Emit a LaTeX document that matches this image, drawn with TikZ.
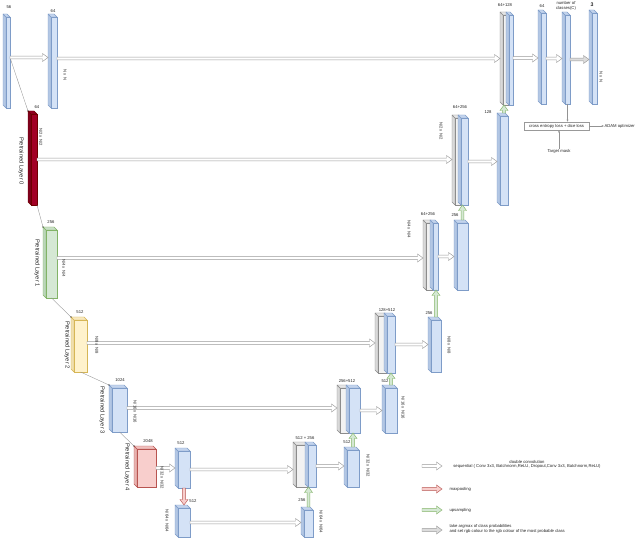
\documentclass[tikz,border=0pt]{standalone}
\usepackage{fontspec}
\setmainfont{Liberation Sans}
\usetikzlibrary{calc,arrows.meta}
\definecolor{bluef}{HTML}{D4E2F6}
\definecolor{blues}{HTML}{B3C7E4}
\definecolor{bluek}{HTML}{7E9CC8}
\definecolor{grayf}{HTML}{F2F2F2}
\definecolor{grays}{HTML}{D9D9D9}
\definecolor{grayk}{HTML}{8C8C8C}
\definecolor{greenf}{HTML}{D5E8D4}
\definecolor{greens}{HTML}{BBD6B9}
\definecolor{greenk}{HTML}{82B366}
\definecolor{yellf}{HTML}{FFF2CC}
\definecolor{yells}{HTML}{F0DFAE}
\definecolor{yellk}{HTML}{D6B656}
\definecolor{redf}{HTML}{F8CECC}
\definecolor{reds}{HTML}{E8B2B0}
\definecolor{redk}{HTML}{B85450}
\definecolor{dredf}{HTML}{A20025}
\definecolor{dreds}{HTML}{7E001C}
\definecolor{dredk}{HTML}{6F0000}
\definecolor{arrk}{HTML}{9A9A9A}
\definecolor{argf}{HTML}{DCDCDC}
\tikzset{
  lbl/.style={font=\fontsize{4.2}{5}\selectfont, inner sep=0.3pt, text=black!85},
  rlbl/.style={lbl, rotate=-90},
  layerlbl/.style={font=\fontsize{5.8}{7}\selectfont, rotate=-90, inner sep=0, text=black!85},
  conn/.style={draw=gray!85, line width=0.35pt},
  frontface/.style={inner sep=0, outer sep=0, line width=0.4pt},
  smallarr/.style={conn, -{Latex[length=2.2pt,width=2pt]}},
}
% name L T R B front side stroke
\newcommand{\slab}[8]{%
  \filldraw[fill=#7, draw=#8, line width=0.4pt, line join=round] (#2+3,#3+3) -- (#2,#3) -- (#2,#5-3) -- (#2+3,#5) -- cycle;
  \filldraw[fill=#7!50!#6, draw=#8, line width=0.4pt, line join=round] (#2+3,#3+3) -- (#2,#3) -- (#4-3,#3) -- (#4,#3+3) -- cycle;
  \node[frontface, draw=#8, fill=#6, anchor=north west, minimum width={(#4-#2-3)*1pt}, minimum height={(#5-#3-3)*1pt}] (#1) at (#2+3,#3+3) {};
  \coordinate (#1-l) at (#2,{(#3+#5)/2});
  \coordinate (#1-t) at ({(#2+#4)/2+1.5},#3);
  \coordinate (#1-tl) at (#2,#3);
}
\newcommand{\bslab}[5]{\slab{#1}{#2}{#3}{#4}{#5}{bluef}{blues}{bluek}}
\newcommand{\gslab}[5]{\slab{#1}{#2}{#3}{#4}{#5}{grayf}{grays}{grayk}}
% fill stroke start end
\newcommand{\barr}[4]{%
  \path #3 coordinate (bs) #4 coordinate (be);
  \path ($(be)!5.5pt!(bs)$) coordinate (bh);
  \filldraw[fill=#1, draw=#2, line width=0.45pt, line join=miter]
    ($(bs)!1.4pt!90:(be)$) -- ($(bh)!1.4pt!90:(be)$) -- ($(bh)!4pt!90:(be)$) -- (be)
    -- ($(bh)!4pt!-90:(be)$) -- ($(bh)!1.4pt!-90:(be)$) -- ($(bs)!1.4pt!-90:(be)$) -- cycle;
}
\begin{document}
\begin{tikzpicture}[x=1pt,y=-1pt]
\useasboundingbox[fill=white] (0,0) rectangle (640,545);

% ---------- encoder ----------
\bslab{A}{3}{14}{10}{108}
\bslab{B}{48}{14}{57}{108}
\slab{L0}{28}{111}{37}{205}{dredf}{dreds}{dredk}
\slab{L1}{43}{227}{57}{298}{greenf}{greens}{greenk}
\slab{L2}{71}{317}{87}{372}{yellf}{yells}{yellk}
\bslab{L3}{109}{385}{127}{432}
\slab{L4}{134}{446}{156}{487}{redf}{reds}{redk}
\bslab{Ma}{175}{448}{190}{488}
\bslab{Mb}{175}{505}{190}{537}

% ---------- decoder ----------
\gslab{C5g}{293}{442}{308}{487}
\bslab{C5b}{305}{442}{316}{487}
\bslab{Sb}{301}{507}{313}{537}
\bslab{Sc}{344}{447}{359}{487}
\gslab{C4g}{337}{385}{350}{433}
\bslab{C4b}{346}{385}{360}{433}
\bslab{Sd}{382}{385}{397}{433}
\gslab{C3g}{375}{313}{388}{373}
\bslab{C3b}{384}{313}{395}{373}
\bslab{Se}{428}{317}{441}{372}
\gslab{C2g}{423}{220}{434}{290}
\bslab{C2b}{430}{220}{438}{290}
\bslab{Sf}{454}{220}{468}{290}
\gslab{C1g}{452}{115}{462}{205}
\bslab{C1b}{458}{115}{468}{205}
\bslab{S128}{497}{113}{508}{205}
\gslab{C0g}{500}{12}{509}{105}
\bslab{C0b}{506}{12}{513}{105}
\bslab{S64}{538}{10}{546}{104}
\bslab{SC}{562}{12}{570}{104}
\bslab{S3}{589}{10}{597}{104}

% ---------- encoder connector lines ----------
\draw[conn] ([yshift=5pt]A.east) -- (L0-tl); \fill (L0-tl) circle (0.7pt);
\draw[conn] (L0.south east) -- (L1-tl); \fill (L1-tl) circle (0.7pt);
\draw[conn] (L1.south) -- (L2-tl); \fill (L2-tl) circle (0.7pt);
\draw[conn] (L2.south) -- (L3-tl); \fill (L3-tl) circle (0.7pt);
\draw[conn] (L3.south) -- (L4-tl); \fill (L4-tl) circle (0.7pt);

% ---------- double convolution arrows ----------
\barr{white}{arrk}{([yshift=5pt]A.east)}{(B-l |- bs)}
\barr{white}{arrk}{([yshift=4pt]B.east)}{(C0g-l |- bs)}
\barr{white}{arrk}{([yshift=2pt]C0b.east)}{(S64-l |- bs)}
\barr{white}{arrk}{(S64.east)}{(SC-l |- S64.east)}
\barr{argf}{arrk}{(SC.east)}{(S3-l |- SC.east)}
\barr{white}{arrk}{(L0.east)}{(C1g-l |- L0.east)}
\barr{white}{arrk}{(C1b.east)}{(S128-l |- C1b.east)}
\barr{white}{arrk}{([yshift=6pt]L1.east)}{(C2g-l |- bs)}
\barr{white}{arrk}{(C2b.east)}{(Sf-l |- C2b.east)}
\barr{white}{arrk}{([yshift=3pt]L2.east)}{(C3g-l |- bs)}
\barr{white}{arrk}{(C3b.east)}{(Se-l |- C3b.east)}
\barr{white}{arrk}{([yshift=2pt]L3.east)}{(C4g-l |- bs)}
\barr{white}{arrk}{(C4b.east)}{(Sd-l |- C4b.east)}
\barr{white}{arrk}{(L4.east)}{(Ma-l |- L4.east)}
\barr{white}{arrk}{(Ma.east)}{(C5g-l |- Ma.east)}
\barr{white}{arrk}{(C5b.east)}{(Sc-l |- C5b.east)}
\barr{white}{arrk}{(Mb.east)}{(Sb-l |- Mb.east)}

% ---------- upsampling / maxpooling ----------
\barr{greenf}{greenk}{(S128-t)}{(S128-t |- C0b.south)}
\barr{greenf}{greenk}{(Sf-t)}{(Sf-t |- C1b.south)}
\barr{greenf}{greenk}{(Se-t)}{(Se-t |- C2b.south)}
\barr{greenf}{greenk}{(Sd-t)}{(Sd-t |- C3b.south)}
\barr{greenf}{greenk}{(Sc-t)}{(Sc-t |- C4b.south)}
\barr{greenf}{greenk}{(Sb-t)}{(Sb-t |- C5b.south)}
\barr{redf}{redk}{(Ma.south)}{(Ma.south |- Mb-t)}

% ---------- labels ----------
\node[lbl] (tA) at (9,7) {56};
\node[lbl] (tB) at (53,11) {64};
\node[rlbl] (rB) at (65,75) {N x N};
\node[lbl] (tL0) at (37,107) {64};
\node[rlbl] (rL0) at (41,137) {N/2 x N/2};
\node[layerlbl] (nL0) at (21,161) {Pretrained Layer 0};
\node[lbl] (tL1) at (51,222) {256};
\node[rlbl] (rL1) at (64,268) {N/4 x N/4};
\node[layerlbl] (nL1) at (37,263) {Pretrained Layer 1};
\node[lbl] (tL2) at (80,312) {512};
\node[rlbl] (rL2) at (97,345) {N/8 x N/8};
\node[layerlbl] (nL2) at (67,345) {Pretrained Layer 2};
\node[lbl] (tL3) at (120,380) {1024};
\node[rlbl] (rL3) at (135,412) {N/16 x N/16};
\node[layerlbl] (nL3) at (102,410) {Pretrained Layer 3};
\node[lbl] (tL4) at (148,441) {2048};
\node[rlbl] (rL4) at (162,478) {N/32 x N/32};
\node[layerlbl] (nL4) at (127,467) {Pretrained Layer 4};
\node[lbl] (tMa) at (181,443) {512};
\node[lbl] (tMb) at (193,501) {512};
\node[rlbl] (rMb) at (167,521) {N/64 x N/64};
\node[lbl] (tC5) at (305,438) {512 + 256};
\node[lbl] (tSb) at (302,500) {256};
\node[rlbl] (rSb) at (321,522) {N/64 x N/64};
\node[lbl] (tSc) at (347,442) {512};
\node[rlbl] (rSc) at (368,466) {N/32 x N/32};
\node[lbl] (tC4) at (347,381) {256+512};
\node[lbl] (tSd) at (385,381) {512};
\node[rlbl] (rSd) at (403,408) {N/16 x N/16};
\node[lbl] (tC3) at (387,310) {128+512};
\node[lbl] (tSe) at (429,313) {256};
\node[rlbl] (rSe) at (449,345) {N/8 x N/8};
\node[lbl] (tC2) at (428,214) {64+256};
\node[lbl] (tSf) at (455,215) {256};
\node[rlbl] (rC2) at (409,229) {N/4 x N/4};
\node[lbl] (tC1) at (460,107) {64+256};
\node[lbl] (tS128) at (488,112) {128};
\node[rlbl] (rC1) at (441,131) {N/2 x N/2};
\node[lbl] (tC0) at (505,5) {64+128};
\node[lbl] (tS64) at (542,6) {64};
\node[lbl, align=center] (tSC) at (566,6) {number of\\classes(C)};
\node[lbl, font=\fontsize{5.2}{6}\selectfont\bfseries] (tS3) at (592,5) {3};
\node[rlbl] (rS3) at (601,77) {N x N};

% ---------- loss ----------
\node[lbl, draw=gray!80, line width=0.4pt, minimum width=65pt, minimum height=8pt, inner sep=0.5pt] (loss) at (556.5,126) {cross entropy loss + dice loss};
\node[lbl, anchor=west] (adam) at (604,126) {ADAM optimizer};
\node[lbl] (tm) at (559,151) {Target mask};
\draw[smallarr] (SC.south) -- (SC.south |- loss.north);
\draw[smallarr] (loss.east) -- (adam.west);
\draw[smallarr] (tm.north) -- (tm.north |- loss.south);

% ---------- legend ----------
\coordinate (lg1s) at (422,466); \coordinate (lg1e) at (442,466);
\coordinate (lg2s) at (422,489); \coordinate (lg2e) at (442,489);
\coordinate (lg3s) at (422,510); \coordinate (lg3e) at (442,510);
\coordinate (lg4s) at (422,530); \coordinate (lg4e) at (442,530);
\barr{white}{arrk}{(lg1s)}{(lg1e)}
\barr{redf}{redk}{(lg2s)}{(lg2e)}
\barr{greenf}{greenk}{(lg3s)}{(lg3e)}
\barr{argf}{arrk}{(lg4s)}{(lg4e)}
\node[lbl] (lgt1a) at (527,461.5) {double convolution};
\node[lbl] (lgt1b) at (527,466.5) {sequential ( Conv 3x3, Batchnorm,ReLU, Dropout,Conv 3x3, Batchnorm,ReLU)};
\node[lbl, anchor=west] (lgt2) at (449,489) {maxpooling};
\node[lbl, anchor=west] (lgt3) at (449,510) {upsampling};
\node[lbl, anchor=west, align=left] (lgt4) at (449,529) {take argmax of class probabilities\\and set rgb colour to the rgb colour of the most probable class};
\end{tikzpicture}
\end{document}
